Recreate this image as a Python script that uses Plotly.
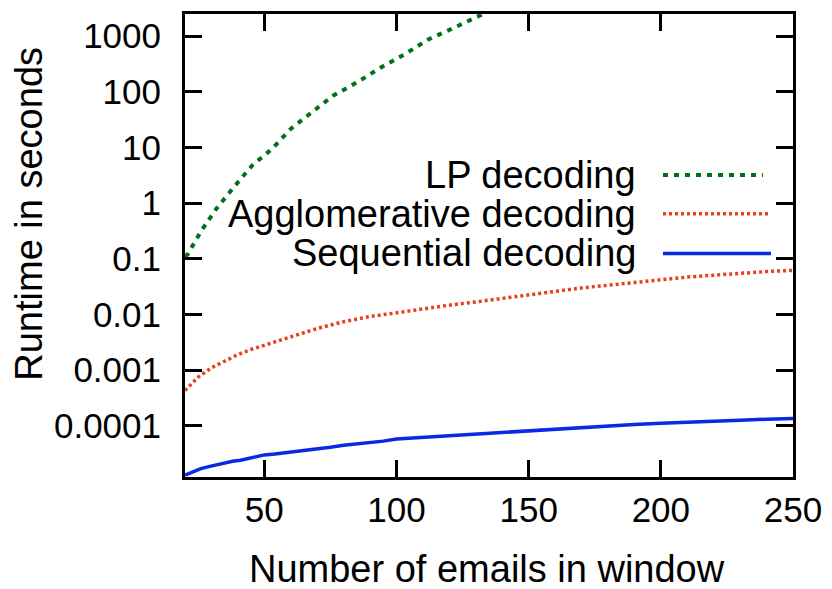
import plotly.graph_objects as go

# ---- data ----
lp_x = [20, 21, 26, 32, 38.6, 45.5, 53, 60, 68, 76, 85, 94, 103, 112, 119, 128, 133, 137]
lp_y = [0.11, 0.12, 0.31, 0.81, 1.97, 4.8, 9.5, 21.6, 43, 85, 147, 272, 470, 870, 1230, 1980, 2500, 3100]

agg_x = [20, 25, 30, 35, 40, 45, 50, 55, 60, 70, 80, 90, 100, 110, 120, 130, 140, 150,
         160, 170, 180, 190, 200, 210, 220, 230, 240, 250]
agg_y = [4.3e-4, 7.5e-4, 1.1e-3, 1.45e-3, 1.9e-3, 2.35e-3, 2.8e-3, 3.4e-3, 4.0e-3, 5.6e-3,
         7.4e-3, 9.2e-3, 0.0107, 0.0126, 0.0147, 0.0168, 0.0195, 0.0225, 0.026, 0.030,
         0.0335, 0.037, 0.042, 0.047, 0.051, 0.055, 0.059, 0.062]

seq_x = [20, 23, 26, 29, 32, 35, 38, 41, 44, 47, 50, 54, 58, 62, 66, 70, 75, 80, 85, 90,
         95, 100, 110, 120, 130, 140, 150, 160, 170, 180, 190, 200, 210, 220, 230, 240, 250]
seq_y = [1.3e-5, 1.5e-5, 1.7e-5, 1.85e-5, 2.0e-5, 2.1e-5, 2.3e-5, 2.4e-5, 2.6e-5, 2.75e-5,
         3.0e-5, 3.1e-5, 3.25e-5, 3.45e-5, 3.6e-5, 3.8e-5, 4.1e-5, 4.45e-5, 4.7e-5, 5.0e-5,
         5.3e-5, 5.8e-5, 6.2e-5, 6.8e-5, 7.2e-5, 7.8e-5, 8.3e-5, 8.8e-5, 9.5e-5, 1.0e-4,
         1.06e-4, 1.11e-4, 1.17e-4, 1.21e-4, 1.26e-4, 1.31e-4, 1.35e-4]

x_ticks = [50, 100, 150, 200, 250]
y_ticks = [1e-4, 1e-3, 1e-2, 1e-1, 1, 10, 100, 1000]
y_ticktext = ["0.0001", "0.001", "0.01", "0.1", "1", "10", "100", "1000"]

series_names = ["LP decoding", "Agglomerative decoding", "Sequential decoding"]
x_title = "Number of emails in window"
y_title = "Runtime in seconds"

# ---- styles ----
GREEN = "#00701a"
RED = "#e8401c"
BLUE = "#0a28e6"
FONT = "Liberation Sans, Arial, sans-serif"
FS_TICK = 35
FS_TEXT = 38

fig = go.Figure()
fig.add_trace(go.Scatter(x=lp_x, y=lp_y, mode="lines", name=series_names[0],
                         line=dict(color=GREEN, width=4, dash="5px,6px")))
fig.add_trace(go.Scatter(x=agg_x, y=agg_y, mode="lines", name=series_names[1],
                         line=dict(color=RED, width=3.5, dash="3px,3px")))
fig.add_trace(go.Scatter(x=seq_x, y=seq_y, mode="lines", name=series_names[2],
                         line=dict(color=BLUE, width=3.5)))

# page body has an 8px margin; figure is sized to fit the 832x589 window
OFF = 8
WIN_W, WIN_H = 832, 589
W, H = WIN_W - OFF, WIN_H - OFF
# plot area in window pixels
PL, PR, PT, PB = 185, 793, 11, 477
L, R, T, B = PL - OFF, W - (PR - OFF), PT - OFF, H - (PB - OFF)
pw, ph = PR - PL, PB - PT

def px(xp):
    return (xp - PL) / pw

def py(yp):
    return (PB - yp) / ph

legend_rows = [173, 212, 252]
legend_styles = [dict(color=GREEN, width=4, dash="5px,6px"),
                 dict(color=RED, width=3.5, dash="3px,3px"),
                 dict(color=BLUE, width=3.5)]
legend_x1 = [763, 768, 771]
annotations = []
shapes = []
for name, yr, st, x1 in zip(series_names, legend_rows, legend_styles, legend_x1):
    annotations.append(dict(x=px(638), y=py(yr), xref="paper", yref="paper",
                            text=name, showarrow=False, xanchor="right", yanchor="middle",
                            font=dict(family=FONT, size=FS_TEXT, color="black")))
    shapes.append(dict(type="line", xref="paper", yref="paper",
                       x0=px(663), x1=px(x1), y0=py(yr), y1=py(yr), line=st))

annotations.append(dict(x=px(487), y=py(570), xref="paper", yref="paper", text=x_title,
                        showarrow=False, xanchor="center", yanchor="middle",
                        font=dict(family=FONT, size=FS_TEXT, color="black")))
annotations.append(dict(x=px(29), y=py(212), xref="paper", yref="paper", text=y_title,
                        showarrow=False, xanchor="center", yanchor="middle", textangle=-90,
                        font=dict(family=FONT, size=FS_TEXT, color="black")))

fig.update_layout(
    width=W, height=H,
    margin=dict(l=L, r=R, t=T, b=B, pad=0),
    paper_bgcolor="white", plot_bgcolor="white",
    showlegend=False,
    font=dict(family=FONT, size=FS_TICK, color="black"),
    annotations=annotations,
    shapes=shapes,
    xaxis=dict(
        range=[20, 250], tickvals=x_ticks, ticks="inside", ticklen=17, tickwidth=3,
        tickcolor="black", showline=True, linewidth=3, linecolor="black",
        mirror="allticks", showgrid=False, zeroline=False,
        tickfont=dict(family=FONT, size=FS_TICK), ticklabelstandoff=0,
    ),
    yaxis=dict(
        type="log", range=[-4.92, 3.398], tickvals=y_ticks, ticktext=y_ticktext,
        ticks="inside", ticklen=17, tickwidth=3, tickcolor="black",
        showline=True, linewidth=3, linecolor="black", mirror="allticks",
        showgrid=False, zeroline=False,
        tickfont=dict(family=FONT, size=FS_TICK), ticklabelstandoff=14,
    ),
)

fig.write_html("out.html")
